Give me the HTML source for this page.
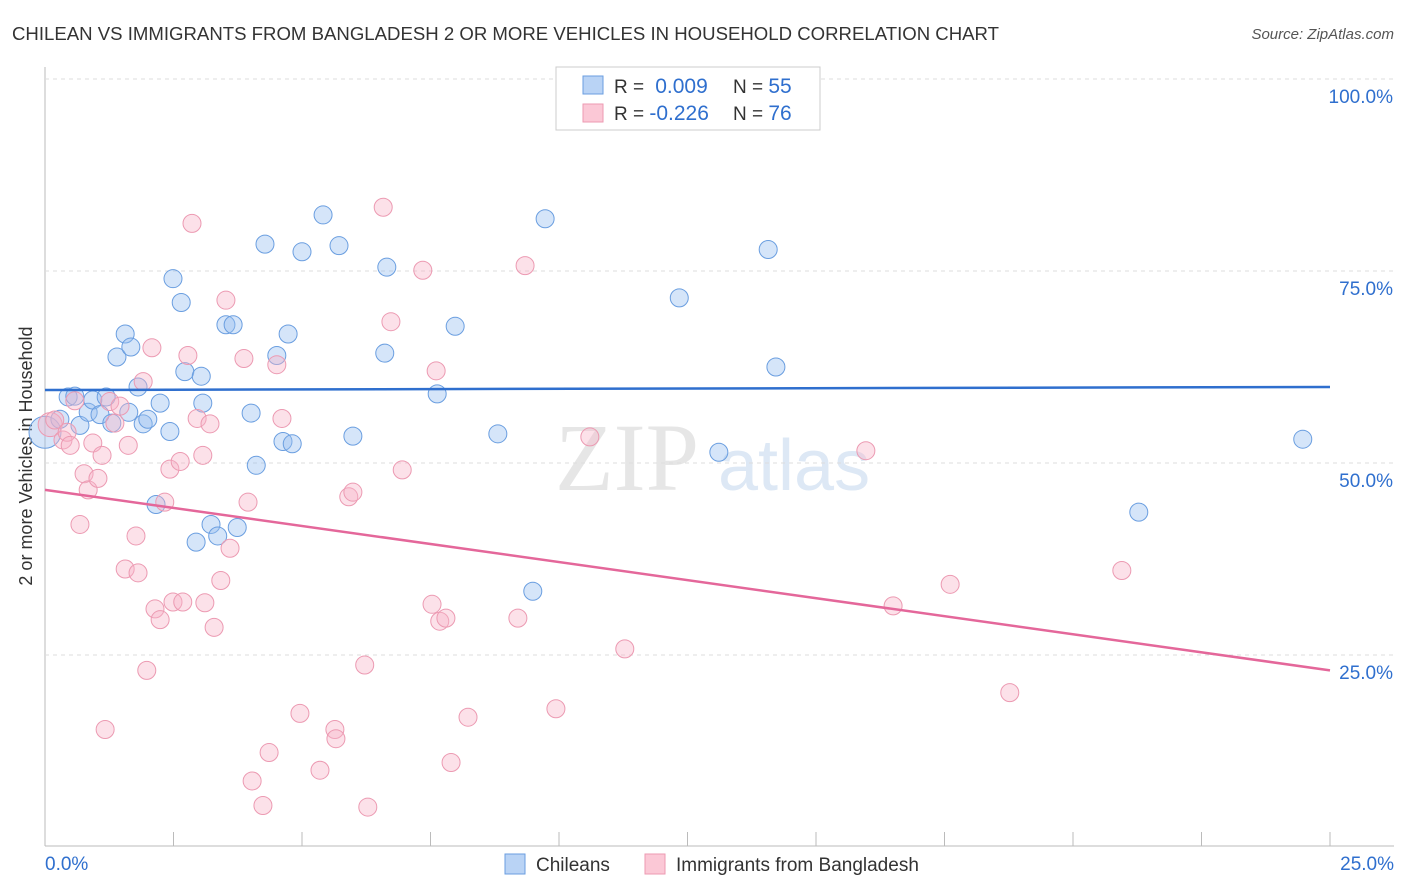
<!DOCTYPE html>
<html><head><meta charset="utf-8"><style>
body{margin:0;background:#fff;font-family:"Liberation Sans",sans-serif;}
svg{display:block}
</style></head><body>
<svg id="c" width="1406" height="892">
<text x="12" y="40" font-size="18.6" fill="#333">CHILEAN VS IMMIGRANTS FROM BANGLADESH 2 OR MORE VEHICLES IN HOUSEHOLD CORRELATION CHART</text>
<text x="1394" y="39" font-size="15" fill="#555" text-anchor="end" font-style="italic">Source: ZipAtlas.com</text>
<text x="32" y="456" font-size="18" fill="#333" text-anchor="middle" transform="rotate(-90 32 456)">2 or more Vehicles in Household</text>
<text x="555" y="490" font-size="96" fill="#e6e6e6" font-family="Liberation Serif,serif">ZIP</text>
<text x="718" y="490" font-size="72" fill="#dde8f5">atlas</text>
<g id="grid"></g><g id="pts"></g><g id="lines"></g>
<g>
<rect x="556" y="67" width="264" height="63" fill="#fff" stroke="#ccc"/>
<rect x="583" y="76" width="20" height="18" fill="#b9d3f5" stroke="#6a9ee0"/>
<rect x="583" y="104" width="20" height="18" fill="#fbc8d6" stroke="#ec9ab2"/>
<text x="614" y="93" font-size="19" fill="#333">R = <tspan fill="#2f6fce" font-size="21">&#160;0.009</tspan><tspan x="733">N = </tspan><tspan fill="#2f6fce" font-size="21">55</tspan></text>
<text x="614" y="120" font-size="19" fill="#333">R = <tspan fill="#2f6fce" font-size="21">-0.226</tspan><tspan x="733">N = </tspan><tspan fill="#2f6fce" font-size="21">76</tspan></text>
</g>
<g>
<rect x="505" y="854" width="20" height="20" fill="#b9d3f5" stroke="#6a9ee0"/>
<text x="536" y="871" font-size="19" fill="#333">Chileans</text>
<rect x="645" y="854" width="20" height="20" fill="#fbc8d6" stroke="#ec9ab2"/>
<text x="676" y="871" font-size="19" fill="#333">Immigrants from Bangladesh</text>
</g>
</svg>
<script>
const xTicks=[0,25];
const yTicks=[25,50,75,100];
const blueX=[0,0.29,0.45,0.58,0.68,0.84,0.93,1.07,1.19,1.3,1.4,1.56,1.67,1.81,1.91,2.0,2.24,2.43,2.49,2.65,2.72,2.94,3.04,3.07,3.23,3.36,3.52,3.66,3.74,4.01,4.11,4.28,4.51,4.63,4.73,4.81,5.0,5.41,5.72,5.99,6.61,6.65,7.63,7.98,8.81,9.49,9.73,12.34,13.11,14.07,14.22,21.28,24.47,2.16,1.63];
const blueY=[54.0,55.7,58.6,58.7,54.9,56.6,58.2,56.3,58.6,55.2,63.8,66.8,65.1,59.9,55.1,55.7,57.8,54.1,74.0,70.9,61.9,39.7,61.3,57.8,42.0,40.5,68.0,68.0,41.6,56.5,49.7,78.5,64.0,52.8,66.8,52.5,77.5,82.3,78.3,53.5,64.3,75.5,59.0,67.8,53.8,33.3,81.8,71.5,51.4,77.8,62.5,43.6,53.1,44.6,56.6];
const pinkX=[0.1,0.19,0.35,0.43,0.49,0.58,0.68,0.76,0.84,0.93,1.03,1.11,1.26,1.36,1.46,1.56,1.62,1.77,1.81,1.91,1.98,2.08,2.14,2.24,2.33,2.43,2.49,2.63,2.68,2.78,2.86,2.96,3.07,3.11,3.21,3.29,3.42,3.52,3.6,3.87,3.95,4.03,4.24,4.36,4.51,4.61,4.96,5.35,5.64,5.66,5.91,5.99,6.22,6.28,6.58,6.73,6.95,7.35,7.53,7.61,7.68,7.8,7.9,8.23,9.2,9.34,9.94,10.6,11.28,15.97,16.5,17.61,18.77,20.95,1.17];
const pinkY=[55.0,55.6,53.0,54.0,52.3,58.1,42.0,48.6,46.5,52.6,48.0,51.0,58.0,55.2,57.4,36.2,52.3,40.5,35.7,60.6,23.0,65.0,31.0,29.6,44.9,49.2,31.9,50.2,31.9,64.0,81.2,55.8,51.0,31.8,55.1,28.6,34.7,71.2,38.9,63.6,44.9,8.6,5.4,12.3,62.8,55.8,17.4,10.0,15.3,14.1,45.6,46.2,23.7,5.2,83.3,68.4,49.1,75.1,31.6,62.0,29.4,29.8,11.0,16.9,29.8,75.7,18.0,53.4,25.8,51.6,31.4,34.2,20.1,36.0,15.3];
const blueTrend=[59.5,59.9];
const pinkTrend=[46.5,23.0];
const X0=45,X1=1330,Y0=847,PY=7.68;
const sx=v=>X0+(X1-X0)*v/25, sy=v=>Y0-v*PY;
const NS='http://www.w3.org/2000/svg';
function mk(t,a,p){const e=document.createElementNS(NS,t);for(const k in a)e.setAttribute(k,a[k]);p.appendChild(e);return e;}
const g=document.getElementById('grid');
let ax=mk('line',{x1:45,y1:67,x2:45,y2:846,stroke:'#bbb'},g);


let bx=mk('line',{x1:45,y1:846,x2:1394,y2:846,stroke:'#bbb'},g);


for(let i=0;i<=10;i++){let t=mk('line',{x1:sx(i*2.5),x2:sx(i*2.5),y1:832,y2:846,stroke:'#bbb'},g);

}
yTicks.forEach(v=>{let l=mk('line',{x1:45,x2:1394,y1:sy(v),y2:sy(v),stroke:'#ddd','stroke-dasharray':'4,4'},g);


let t=mk('text',{x:1393,y:sy(v)+24,'text-anchor':'end','font-size':19,fill:'#2f6fce'},g);t.textContent=v.toFixed(1)+'%';

});
xTicks.forEach((v,i)=>{let t=mk('text',{x:i?1394:45,y:870,'text-anchor':i?'end':'start','font-size':19,fill:'#2f6fce'},g);t.textContent=v.toFixed(1)+'%';

});
const pg=document.getElementById('pts');
blueX.forEach((v,i)=>{let c=mk('circle',{cx:sx(v),cy:sy(blueY[i]),r:i==0?16:9,fill:'rgba(150,190,240,0.4)',stroke:'#6a9ee0','stroke-width':1},pg);

});
pinkX.forEach((v,i)=>{let c=mk('circle',{cx:sx(v),cy:sy(pinkY[i]),r:i==0?12:9,fill:'rgba(248,180,200,0.4)',stroke:'#ec9ab2','stroke-width':1},pg);

});
const lg=document.getElementById('lines');
let b=mk('line',{x1:sx(0),x2:sx(25),y1:sy(blueTrend[0]),y2:sy(blueTrend[1]),stroke:'#2f6fce','stroke-width':2.5},lg);


let p=mk('line',{x1:sx(0),x2:sx(25),y1:sy(pinkTrend[0]),y2:sy(pinkTrend[1]),stroke:'#e4679a','stroke-width':2.5},lg);


</script>
</body></html>
